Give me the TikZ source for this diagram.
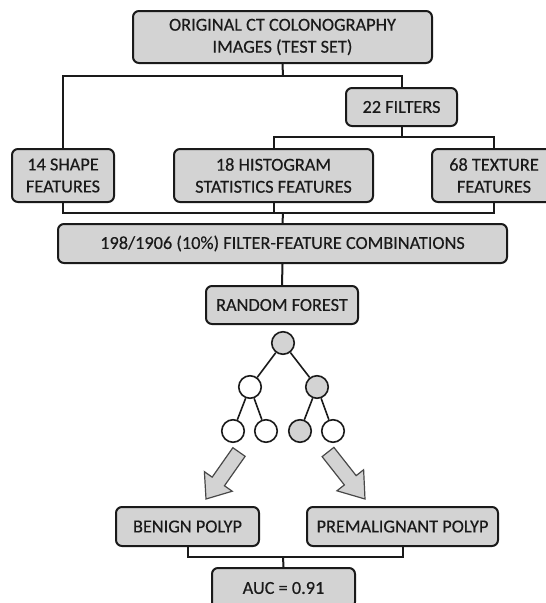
\documentclass[tikz,border=0pt]{standalone}
\usepackage{fontspec}
\setmainfont{Carlito}
\newfontfamily\boxfont[FakeBold=0.35]{Carlito}
\usetikzlibrary{calc}
\definecolor{boxfill}{HTML}{D3D3D3}
\definecolor{ink}{HTML}{1A1A1A}
\begin{document}
\begin{tikzpicture}[x=1pt,y=-1pt,
  box/.style={draw=ink,fill=boxfill,line width=2pt,rounded corners=6pt,
    align=center,inner sep=0pt,text=ink,
    font=\boxfont\fontsize{18.3}{22}\selectfont},
  conn/.style={draw=ink,line width=2pt},
  leaf/.style={circle,draw=ink,line width=1.6pt,fill=white,minimum size=22.5pt,inner sep=0pt},
  leafg/.style={leaf,fill=boxfill},
  blk/.style={draw=ink!80,fill=boxfill,line width=1.2pt,line join=miter}]
\useasboundingbox (0,0) rectangle (546,603);
\clip (0,0) rectangle (546,603);
% boxes
\node[box,minimum width=299pt,minimum height=52pt] (top) at (282.5,37) {ORIGINAL CT COLONOGRAPHY\\IMAGES (TEST SET)};
\node[box,minimum width=111pt,minimum height=38pt] (filters) at (401.5,107) {22 FILTERS};
\node[box,minimum width=102pt,minimum height=53pt] (shape) at (63,175.5) {14 SHAPE\\FEATURES};
\node[box,minimum width=199pt,minimum height=53pt] (hist) at (273.5,175.5) {18 HISTOGRAM\\STATISTICS FEATURES};
\node[box,minimum width=124pt,minimum height=53pt] (texture) at (494,175.5) {68 TEXTURE\\FEATURES};
\node[box,minimum width=449pt,minimum height=39pt] (combos) at (282.5,243.5) {198/1906 (10\%) FILTER-FEATURE COMBINATIONS};
\node[box,minimum width=152pt,minimum height=38pt] (rf) at (282,305) {RANDOM FOREST};
\node[box,minimum width=143pt,minimum height=39pt] (benign) at (187.5,526.5) {BENIGN POLYP};
\node[box,minimum width=191pt,minimum height=39pt] (premal) at (402.5,526.5) {PREMALIGNANT POLYP};
\node[box,minimum width=143pt,minimum height=40pt] (auc) at (283.5,588) {AUC = 0.91};
% junctions
\coordinate (j1) at (283,76);
\coordinate (j2) at (401.5,137);
\coordinate (j3) at (283,213);
\coordinate (j4) at (283,557);
% connectors
\draw[conn] (top.south) -- (j1);
\draw[conn] (shape.north) |- (j1) -| (filters.north);
\draw[conn] (filters.south) -- (j2);
\draw[conn] (hist.north) |- (j2) -| (texture.north);
\draw[conn] (shape.south) |- (j3) -| (texture.south);
\draw[conn] (hist.south) -- (hist.south |- j3);
\draw[conn] (j3) -- (combos.north);
\draw[conn] (combos.south) -- (rf.north);
\draw[conn] (benign.south) |- (j4) -| (premal.south);
\draw[conn] (j4) -- (auc.north);
% tree
\node[leafg] (r) at (283,343) {};
\node[leaf] (a) at (250,387) {};
\node[leafg] (b) at (317,387) {};
\node[leaf] (a1) at (233,431) {};
\node[leaf] (a2) at (266,431) {};
\node[leafg] (b1) at (300,431) {};
\node[leaf] (b2) at (333,431) {};
\draw[conn,line width=1.6pt] (r) -- (a) (r) -- (b) (a) -- (a1) (a) -- (a2) (b) -- (b1) (b) -- (b2);
% block arrows
\newcommand{\blockarrow}[2]{%
  \path (#1) coordinate (bs) (#2) coordinate (bt) ($(bs)!36pt!(bt)$) coordinate (bb);
  \filldraw[blk] ($(bs)!7.5pt!90:(bt)$) -- ($(bb)!7.5pt!90:(bt)$) -- ($(bb)!17pt!90:(bt)$) -- (bt)
    -- ($(bb)!17pt!-90:(bt)$) -- ($(bb)!7.5pt!-90:(bt)$) -- ($(bs)!7.5pt!-90:(bt)$) -- cycle;}
\blockarrow{239,452}{206,499}
\blockarrow{328,452}{365,499}
\end{tikzpicture}
\end{document}
